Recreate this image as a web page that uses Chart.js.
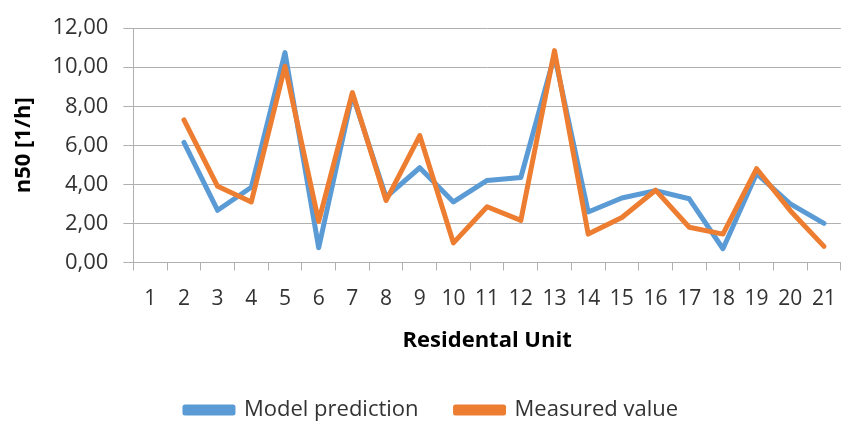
<!DOCTYPE html>
<html>
<head>
<meta charset="utf-8">
<script src="https://cdn.jsdelivr.net/npm/chart.js@4"></script>
<style>
  html, body { margin: 0; padding: 0; background: #fff; overflow: hidden; }
  #wrap { width: 852px; height: 421px; position: relative; }
</style>
</head>
<body>
<div id="wrap"><canvas id="c"></canvas></div>
<script>
const categories = ['1','2','3','4','5','6','7','8','9','10','11','12','13','14','15','16','17','18','19','20','21'];
const modelPrediction = [null, 6.15, 2.67, 3.85, 10.75, 0.75, 8.6, 3.35, 4.85, 3.1, 4.2, 4.35, 10.6, 2.58, 3.3, 3.68, 3.26, 0.7, 4.55, 3.0, 2.0];
const measuredValue = [null, 7.3, 3.9, 3.1, 10.05, 2.1, 8.7, 3.17, 6.5, 1.0, 2.85, 2.15, 10.85, 1.45, 2.3, 3.7, 1.8, 1.45, 4.8, 2.65, 0.82];
const yTicks = { min: 0, max: 12, step: 2 };

const FONT = 'Open Sans';
const gridGray = '#b0b0b0';

new Chart(document.getElementById('c'), {
  type: 'line',
  data: {
    labels: categories,
    datasets: [
      { label: 'Measured value', data: measuredValue, borderColor: '#ED7D31', backgroundColor: '#ED7D31', borderWidth: 5, pointRadius: 0, tension: 0, borderCapStyle: 'round', borderJoinStyle: 'round' },
      { label: 'Model prediction', data: modelPrediction, borderColor: '#5B9BD5', backgroundColor: '#5B9BD5', borderWidth: 5, pointRadius: 0, tension: 0, borderCapStyle: 'round', borderJoinStyle: 'round' }
    ]
  },
  options: {
    responsive: true,
    maintainAspectRatio: false,
    animation: false,
    layout: { padding: { top: 10, right: 0, bottom: -10, left: 11 } },
    plugins: {
      tooltip: { enabled: false },
      legend: {
        position: 'bottom',
        labels: {
          font: { family: FONT, size: 22 },
          color: '#333',
          boxWidth: 48,
          boxHeight: 6,
          padding: 37,
          sort: (a, b) => b.datasetIndex - a.datasetIndex
        }
      }
    },
    scales: {
      x: {
        offset: true,
        grid: { offset: true, drawOnChartArea: false, tickLength: 8, color: gridGray },
        border: { color: gridGray },
        ticks: { font: { family: FONT, size: 21 }, color: '#333', maxRotation: 0, autoSkip: false, padding: 16 },
        title: { display: true, text: 'Residental Unit', font: { family: FONT, size: 22, weight: 'bold' }, color: '#000', padding: { top: 0, bottom: 8 } }
      },
      y: {
        min: yTicks.min,
        max: yTicks.max,
        grid: { color: gridGray, tickLength: 10 },
        border: { color: gridGray },
        ticks: {
          stepSize: yTicks.step,
          font: { family: FONT, size: 22 },
          color: '#333',
          padding: 15,
          callback: v => v.toFixed(2).replace('.', ',')
        },
        title: { display: true, text: 'n50 [1/h]', font: { family: FONT, size: 22, weight: 'bold' }, color: '#000', padding: { top: 0, bottom: 0 } }
      }
    }
  }
});
</script>
</body>
</html>
